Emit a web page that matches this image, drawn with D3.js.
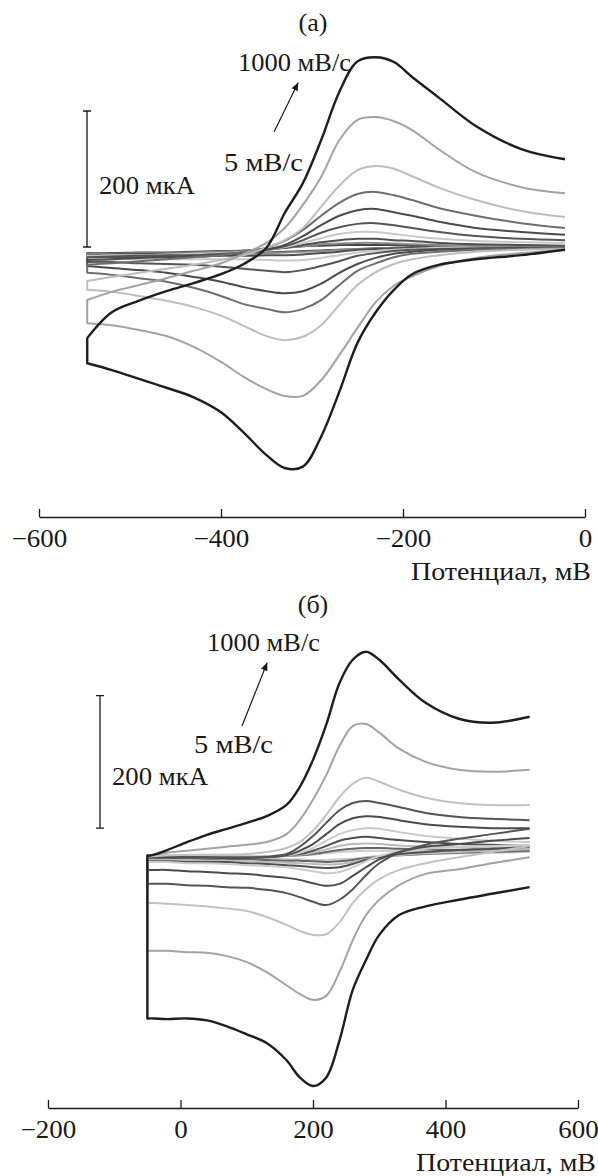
<!DOCTYPE html>
<html>
<head>
<meta charset="utf-8">
<script src="https://cdn.jsdelivr.net/npm/d3@7"></script>
<style>
  body { margin: 0; background: #fff; }
  text { font-family: "Liberation Serif", "Times New Roman", serif; fill: #1a1a1a; }
</style>
</head>
<body>
<svg id="chart" width="598" height="1176"></svg>
<script>
// ---- panel (a): potentials (mV) and currents (µA) ----
const potentialA = [-547, -520, -490, -460, -430, -400, -375, -350, -330, -310, -290, -270, -250, -230, -210, -190, -160, -120, -70, -22];

const anodicA = [
  [-134, -96, -79, -65, -53, -40, -25, -1, 50, 94, 157, 228, 273, 279, 272, 250, 219, 178, 144, 129],
  [-78, -66, -56, -46, -35, -24, -10, 6, 28, 62, 103, 157, 187, 191, 185, 172, 143, 110, 88, 79],
  [-50, -44, -38, -32, -26, -19, -12, -1, 10, 28, 59, 90, 113, 119, 115, 104, 87, 69, 53, 44],
  [-26, -24, -21, -18, -15, -12, -7, -1, 9, 25, 46, 65, 78, 81, 76, 69, 57, 46, 35, 28],
  [-19, -18, -16, -15, -13, -12, -9, -4, 3, 16, 32, 46, 54, 56, 51, 46, 37, 28, 22, 18],
  [-15, -14, -13, -12, -12, -10, -8, -4, 1, 10, 21, 29, 34, 35, 32, 28, 22, 16, 12, 10],
  [-13, -12, -12, -11, -10, -9, -7, -4, 0, 6, 13, 19, 22, 22, 19, 16, 12, 9, 7, 6],
  [-12, -11, -10, -10, -10, -9, -7, -4, -1, 3, 7, 10, 12, 12, 10, 9, 6, 4, 3, 2],
  [-10, -10, -9, -9, -8, -7, -6, -4, -1, 1, 4, 5, 6, 6, 5, 4, 3, 1, 1, 0],
  [-9, -9, -8, -8, -7, -6, -5, -3, -1, 1, 2, 3, 3, 3, 3, 2, 2, 1, 0, 0]
];

const cathodicA = [
  [-171, -181, -194, -207, -221, -243, -273, -306, -325, -323, -279, -213, -141, -96, -63, -40, -26, -18, -12, -4],
  [-112, -115, -122, -131, -147, -169, -191, -209, -219, -219, -196, -159, -119, -81, -57, -43, -28, -16, -9, -4],
  [-63, -66, -72, -79, -88, -101, -116, -131, -137, -132, -115, -85, -56, -37, -25, -18, -12, -7, -4, -3],
  [-38, -41, -46, -51, -60, -72, -84, -91, -96, -91, -78, -56, -35, -24, -15, -10, -7, -4, -3, -1],
  [-28, -31, -34, -38, -44, -51, -59, -65, -68, -65, -54, -38, -25, -16, -10, -7, -4, -3, -2, -1],
  [-22, -22, -24, -25, -26, -29, -32, -35, -37, -34, -28, -21, -13, -9, -6, -4, -3, -2, -1, -1],
  [-18, -18, -18, -18, -18, -18, -18, -19, -20, -19, -16, -12, -8, -6, -4, -3, -1, -1, -1, -1],
  [-15, -15, -15, -14, -14, -13, -13, -12, -12, -11, -9, -7, -4, -3, -2, -1, -1, -1, -1, -1],
  [-13, -12, -12, -12, -11, -10, -10, -9, -8, -7, -6, -4, -3, -2, -1, -1, -1, -1, -1, -1],
  [-12, -11, -11, -10, -10, -9, -9, -8, -7, -6, -5, -4, -3, -2, -1, -1, -1, -1, -1, -1]
];

// ---- panel (б) ----
const potentialB = [-50, -40, -20, 10, 40, 70, 100, 130, 160, 180, 200, 220, 240, 260, 280, 300, 330, 370, 420, 470, 527];

const anodicB = [
  [0, 2, 9, 21, 32, 41, 50, 60, 77, 104, 145, 198, 261, 296, 308, 296, 266, 231, 207, 201, 210],
  [0, 2, 5, 8, 11, 14, 17, 21, 33, 54, 85, 122, 166, 196, 199, 186, 162, 142, 130, 127, 130],
  [0, 0, 1, 2, 2, 2, 3, 6, 12, 21, 38, 62, 89, 109, 118, 112, 100, 88, 80, 77, 77],
  [1, 0, -1, -1, -2, -2, -2, -1, 3, 14, 30, 50, 69, 80, 83, 80, 74, 65, 59, 56, 54],
  [0, -1, -2, -2, -2, -3, -3, -2, 1, 8, 18, 33, 48, 57, 60, 59, 54, 48, 44, 42, 42],
  [2, 1, 1, 0, 0, 0, 0, 0, 1, 5, 12, 23, 33, 39, 42, 41, 36, 30, 26, 23, 21],
  [0, 0, -1, -1, -1, -1, -1, -1, 1, 3, 8, 15, 23, 27, 29, 27, 24, 21, 18, 17, 15],
  [1, 1, 0, 0, 0, 0, 0, 0, 0, 2, 5, 10, 15, 18, 19, 18, 16, 14, 13, 12, 12],
  [0, 0, 0, -1, -1, -1, -1, -1, 0, 1, 3, 6, 9, 11, 12, 12, 11, 10, 9, 9, 9],
  [1, 1, 1, 1, 0, 0, 0, 0, 0, 1, 2, 4, 6, 7, 8, 8, 7, 7, 7, 7, 7]
];

const cathodicB = [
  [-245, -245, -246, -245, -248, -257, -269, -282, -308, -334, -347, -334, -278, -202, -157, -119, -89, -76, -66, -57, -47],
  [-143, -143, -143, -145, -146, -151, -160, -175, -195, -208, -217, -211, -175, -127, -89, -66, -44, -27, -20, -11, -2],
  [-71, -71, -72, -74, -76, -79, -83, -92, -104, -113, -119, -118, -100, -71, -50, -35, -21, -11, -2, 6, 15],
  [-42, -42, -42, -44, -45, -47, -48, -51, -56, -62, -69, -74, -66, -50, -29, -11, 5, 17, 26, 33, 41],
  [-21, -21, -21, -23, -24, -26, -27, -30, -33, -36, -41, -45, -42, -30, -17, -5, 6, 14, 18, 23, 27],
  [-9, -9, -9, -11, -11, -12, -14, -15, -17, -20, -23, -26, -24, -17, -8, 0, 6, 11, 14, 15, 17],
  [-8, -8, -8, -9, -9, -9, -11, -12, -14, -15, -17, -18, -17, -12, -6, -2, 3, 6, 9, 11, 14],
  [-6, -6, -6, -6, -7, -7, -8, -9, -10, -11, -12, -13, -12, -9, -5, -2, 1, 4, 6, 8, 10],
  [-4, -4, -4, -4, -5, -5, -5, -6, -7, -7, -8, -9, -8, -6, -3, -1, 1, 3, 5, 6, 8],
  [-3, -3, -3, -3, -3, -3, -4, -4, -5, -5, -6, -6, -5, -4, -2, 0, 1, 3, 4, 5, 6]
];

const colorsA = ["#1e1e1e", "#a3a3a3", "#bdbdbd", "#6e6e6e", "#4b4b4b", "#555555", "#c9c9c9", "#4f4f4f", "#8a8a8a", "#444444"];
const colorsB = ["#1e1e1e", "#a3a3a3", "#c2c2c2", "#555555", "#4b4b4b", "#cbcbcb", "#505050", "#bbbbbb", "#666666", "#cccccc"];

const ticksA = [-600, -400, -200, 0];
const ticksB = [-200, 0, 200, 400, 600];
const axisTitle = "Потенциал, мВ";

const svg = d3.select("#chart");

// arrowhead
svg.append("defs").append("marker")
    .attr("id", "arrowhead")
    .attr("viewBox", "0 0 10 10")
    .attr("refX", 9)
    .attr("refY", 5)
    .attr("markerWidth", 7)
    .attr("markerHeight", 7)
    .attr("orient", "auto")
    .append("path")
    .attr("d", "M0,1 L10,5 L0,9 z")
    .attr("fill", "#1a1a1a");

function stretch(sel, k) {
    sel.each(function () {
        const w = this.getComputedTextLength();
        d3.select(this).attr("textLength", w * k).attr("lengthAdjust", "spacingAndGlyphs");
    });
}

function drawPanel(p) {
    const g = svg.append("g");
    const x = d3.scaleLinear().domain(p.xDomain).range(p.xRange);
    const y = d3.scaleLinear().domain([-400, 400]).range([p.zeroY + 400 * p.pxPerUA, p.zeroY - 400 * p.pxPerUA]);

    const line = d3.line()
        .x(d => x(d[0]))
        .y(d => y(d[1]))
        .curve(d3.curveCatmullRom.alpha(0.5));

    // each loop: cathodic sweep from right to left, straight switch, then anodic sweep back
    const loops = p.anodic.map((a, i) => {
        const back = p.cathodic[i].map((v, j) => [p.potential[j], v]).reverse();
        const fwd = a.map((v, j) => [p.potential[j], v]);
        return { d: line(back) + "L" + line(fwd).slice(1), color: p.colors[i], i };
    }).reverse();

    g.selectAll(".cv")
        .data(loops)
        .enter().append("path")
        .attr("class", "cv")
        .attr("d", d => d.d)
        .attr("fill", "none")
        .attr("stroke", d => d.color)
        .attr("stroke-width", d => d.i === 0 ? 2.4 : 2)
        .attr("stroke-linejoin", "round");

    // x axis, ticks pointing up
    const axis = g.append("g")
        .attr("transform", `translate(0,${p.axisY})`)
        .call(d3.axisBottom(x).tickValues(p.ticks).tickSizeInner(-8).tickSizeOuter(0).tickPadding(12));
    axis.select(".domain").attr("stroke", "#1a1a1a").attr("stroke-width", 1.3);
    axis.selectAll(".tick line").attr("stroke", "#1a1a1a").attr("stroke-width", 1.3);
    axis.selectAll(".tick text")
        .attr("font-size", 25)
        .attr("font-family", "'Liberation Serif', 'Times New Roman', serif")
        .attr("fill", "#1a1a1a")
        .call(stretch, 1.08);

    g.append("text")
        .attr("x", p.titleX)
        .attr("y", p.titleY)
        .attr("text-anchor", "end")
        .attr("font-size", 26)
        .attr("textLength", 180)
        .attr("lengthAdjust", "spacingAndGlyphs")
        .text(axisTitle);

    // panel letter
    g.append("text")
        .attr("x", 313)
        .attr("y", p.letterY)
        .attr("text-anchor", "middle")
        .attr("font-size", 26)
        .text(p.letter);

    // 200 µA scale bar
    const bx = p.barX, b0 = y(p.barBase), b1 = y(p.barBase + 200);
    g.append("path")
        .attr("d", `M${bx},${b0}V${b1}M${bx - 4},${b0}H${bx + 4}M${bx - 4},${b1}H${bx + 4}`)
        .attr("stroke", "#1a1a1a")
        .attr("stroke-width", 1.3)
        .attr("fill", "none");

    const labels = [
        { t: "200 мкА", x: p.barX + 12, y: p.barLabelY, w: 96 },
        { t: "1000 мВ/с", x: p.fastX, y: p.fastY, w: 113 },
        { t: "5 мВ/с", x: p.slowX, y: p.slowY, w: 79 }
    ];
    g.selectAll(".lab")
        .data(labels)
        .enter().append("text")
        .attr("class", "lab")
        .attr("x", d => d.x)
        .attr("y", d => d.y)
        .attr("font-size", 26)
        .attr("textLength", d => d.w)
        .attr("lengthAdjust", "spacingAndGlyphs")
        .text(d => d.t);

    g.append("line")
        .attr("x1", p.arrow[0]).attr("y1", p.arrow[1])
        .attr("x2", p.arrow[2]).attr("y2", p.arrow[3])
        .attr("stroke", "#1a1a1a")
        .attr("stroke-width", 1.2)
        .attr("marker-end", "url(#arrowhead)");
}

drawPanel({
    letter: "(a)", letterY: 31,
    potential: potentialA, anodic: anodicA, cathodic: cathodicA, colors: colorsA,
    xDomain: [-600, 0], xRange: [39, 585], ticks: ticksA,
    zeroY: 247, pxPerUA: 0.68, axisY: 517,
    titleX: 591, titleY: 580,
    barX: 87, barBase: 0, barLabelY: 194,
    fastX: 238, fastY: 71, slowX: 224, slowY: 171,
    arrow: [274, 132, 298, 83]
});

drawPanel({
    letter: "(б)", letterY: 613,
    potential: potentialB, anodic: anodicB, cathodic: cathodicB, colors: colorsB,
    xDomain: [-200, 600], xRange: [48, 578], ticks: ticksB,
    zeroY: 856, pxPerUA: 0.663, axisY: 1108,
    titleX: 596, titleY: 1171,
    barX: 100, barBase: 42, barLabelY: 785,
    fastX: 207, fastY: 651, slowX: 194, slowY: 753,
    arrow: [242, 726, 267, 663]
});
</script>
</body>
</html>
